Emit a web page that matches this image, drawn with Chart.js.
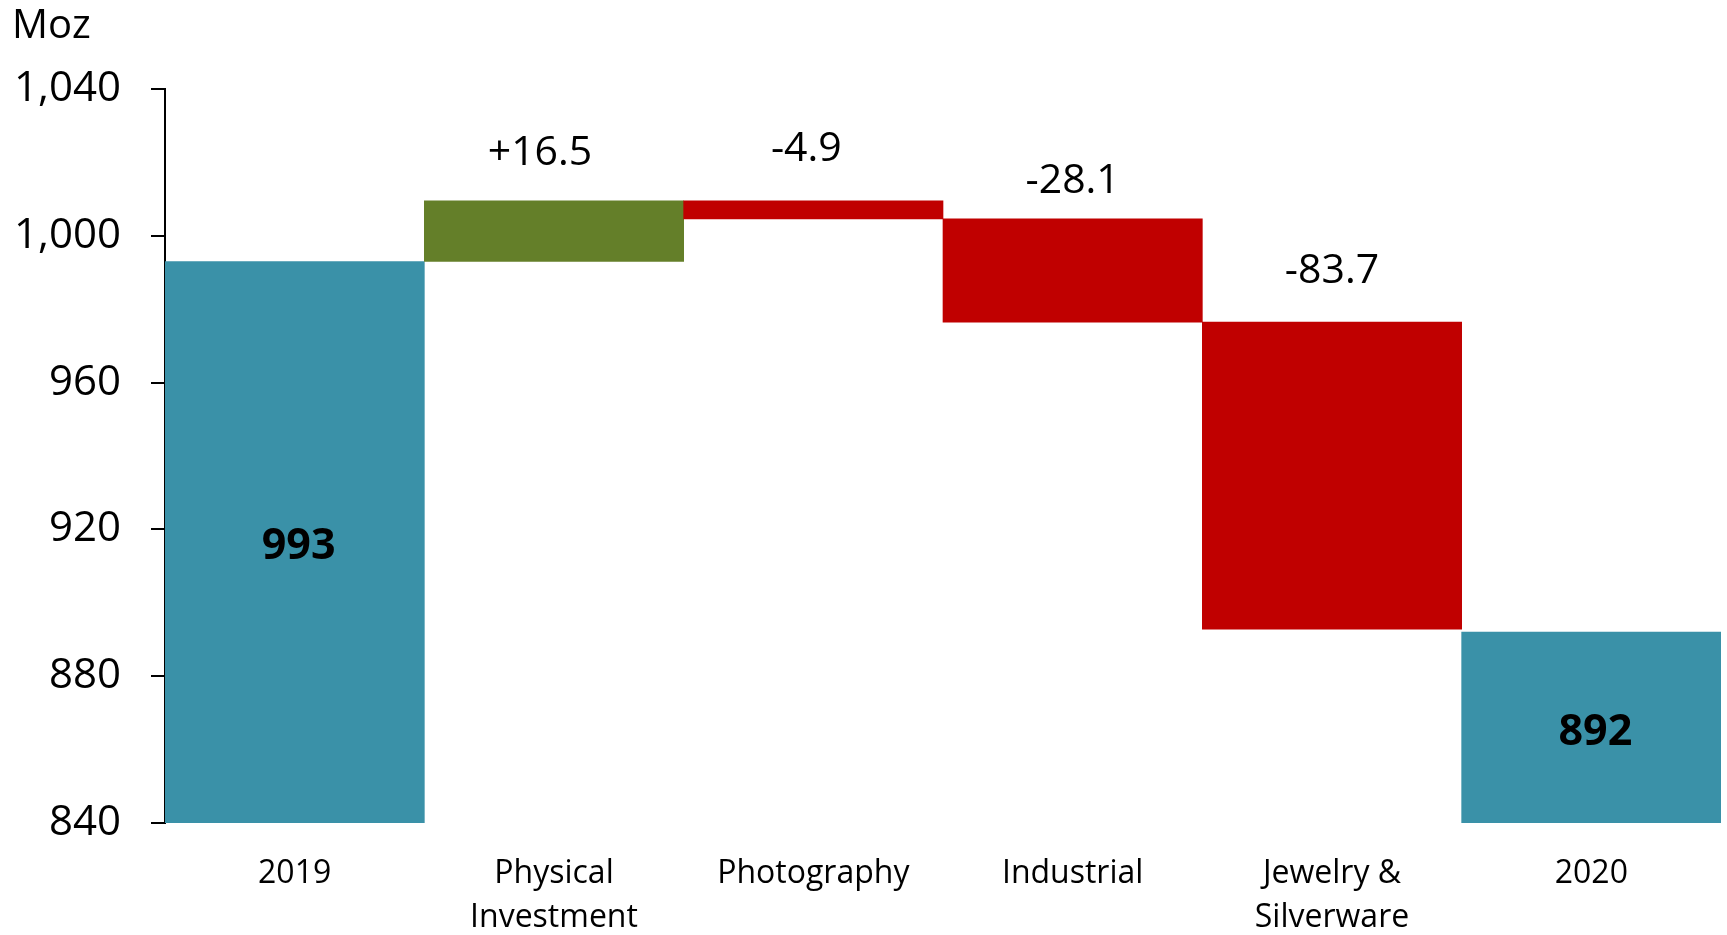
<!DOCTYPE html>
<html>
<head>
<meta charset="utf-8">
<title>Silver demand 2019-2020</title>
<script src="https://cdn.jsdelivr.net/npm/chart.js@4/dist/chart.umd.min.js"></script>
<style>
  html, body { margin: 0; padding: 0; background: #fff; }
  #wrap { width: 1727px; height: 935px; }
</style>
</head>
<body>
<div id="wrap"><canvas id="myChart" width="1727" height="935"></canvas></div>
<script>
// categories along the bottom
var categories = ['2019', ['Physical', 'Investment'], 'Photography', 'Industrial', ['Jewelry &', 'Silverware'], '2020'];
// opening and closing totals (Moz)
var startTotal = 993;
var endTotal = 892;
// year on year changes by segment
var changes = [16.5, -4.9, -28.1, -83.7];
// value axis
var yMin = 840;
var yMax = 1040;
var yStep = 40;

var TEAL = '#3a91a8';
var GREEN = '#647f29';
var RED = '#c00000';
var FONT = '"Open Sans", "DejaVu Sans", sans-serif';

// build floating bars for the waterfall
var barData = [startTotal];
var barColors = [TEAL];
var running = startTotal;
changes.forEach(function (c) {
    barData.push([running, running + c]);
    barColors.push(c >= 0 ? GREEN : RED);
    running = running + c;
});
barData.push(endTotal);
barColors.push(TEAL);

function fmtChange(v) {
    return (v > 0 ? '+' : '') + v.toFixed(1);
}

// value labels: changes above the bars, totals bold inside
var waterfallLabels = {
    id: 'waterfallLabels',
    afterDatasetsDraw: function (chart, args, opts) {
        var ctx = chart.ctx;
        var meta = chart.getDatasetMeta(0);
        var bottom = chart.chartArea.bottom;
        ctx.save();
        ctx.fillStyle = '#000';
        ctx.textAlign = 'center';
        ctx.textBaseline = 'middle';
        meta.data.forEach(function (bar, i) {
            var top = Math.min(bar.y, bar.base);
            if (i === 0 || i === meta.data.length - 1) {
                // total bars start at zero, so their base sits below the visible area
                var base = Math.min(bar.base, bottom);
                ctx.font = 'bold 43px ' + FONT;
                var val = i === 0 ? startTotal : endTotal;
                ctx.fillText(String(val), bar.x + 4, (bar.y + base) / 2 + 5);
            } else {
                ctx.font = '41px ' + FONT;
                var k = i - 1;
                ctx.fillText(fmtChange(changes[k]), bar.x + opts.dx[k], top - opts.dy[k]);
            }
        });
        // unit label in the top left corner
        ctx.textAlign = 'left';
        ctx.font = '40px ' + FONT;
        ctx.fillText('Moz', 12, 27);
        ctx.restore();
    }
};

var ctx = document.getElementById('myChart').getContext('2d');
var myChart = new Chart(ctx, {
    type: 'bar',
    data: {
        labels: categories,
        datasets: [{
            data: barData,
            backgroundColor: barColors,
            borderWidth: 0,
            barPercentage: 1,
            categoryPercentage: 1
        }]
    },
    options: {
        responsive: false,
        animation: false,
        layout: { padding: { top: 89, right: 6, left: 0, bottom: 0 } },
        plugins: {
            legend: { display: false },
            tooltip: { enabled: false },
            waterfallLabels: {
                dx: [-14, -7, 0, 0],
                dy: [48, 52, 38, 51]
            }
        },
        scales: {
            x: {
                grid: { display: false, drawTicks: false },
                border: { display: false },
                ticks: {
                    color: '#000',
                    padding: 28,
                    maxRotation: 0,
                    autoSkip: false,
                    font: { family: FONT, size: 32, lineHeight: 1.4 }
                },
                afterFit: function (scale) { scale.height = 112; }
            },
            y: {
                min: yMin,
                max: yMax,
                grid: {
                    drawOnChartArea: false,
                    drawTicks: true,
                    tickLength: 14,
                    color: '#000',
                    lineWidth: 2
                },
                border: { display: true, color: '#000', width: 2 },
                ticks: {
                    stepSize: yStep,
                    color: '#000',
                    padding: 30,
                    font: { family: FONT, size: 42 },
                    callback: function (v) { return v.toLocaleString('en-US'); }
                },
                afterFit: function (scale) { scale.width = 165; }
            }
        }
    },
    plugins: [waterfallLabels]
});
</script>
</body>
</html>
